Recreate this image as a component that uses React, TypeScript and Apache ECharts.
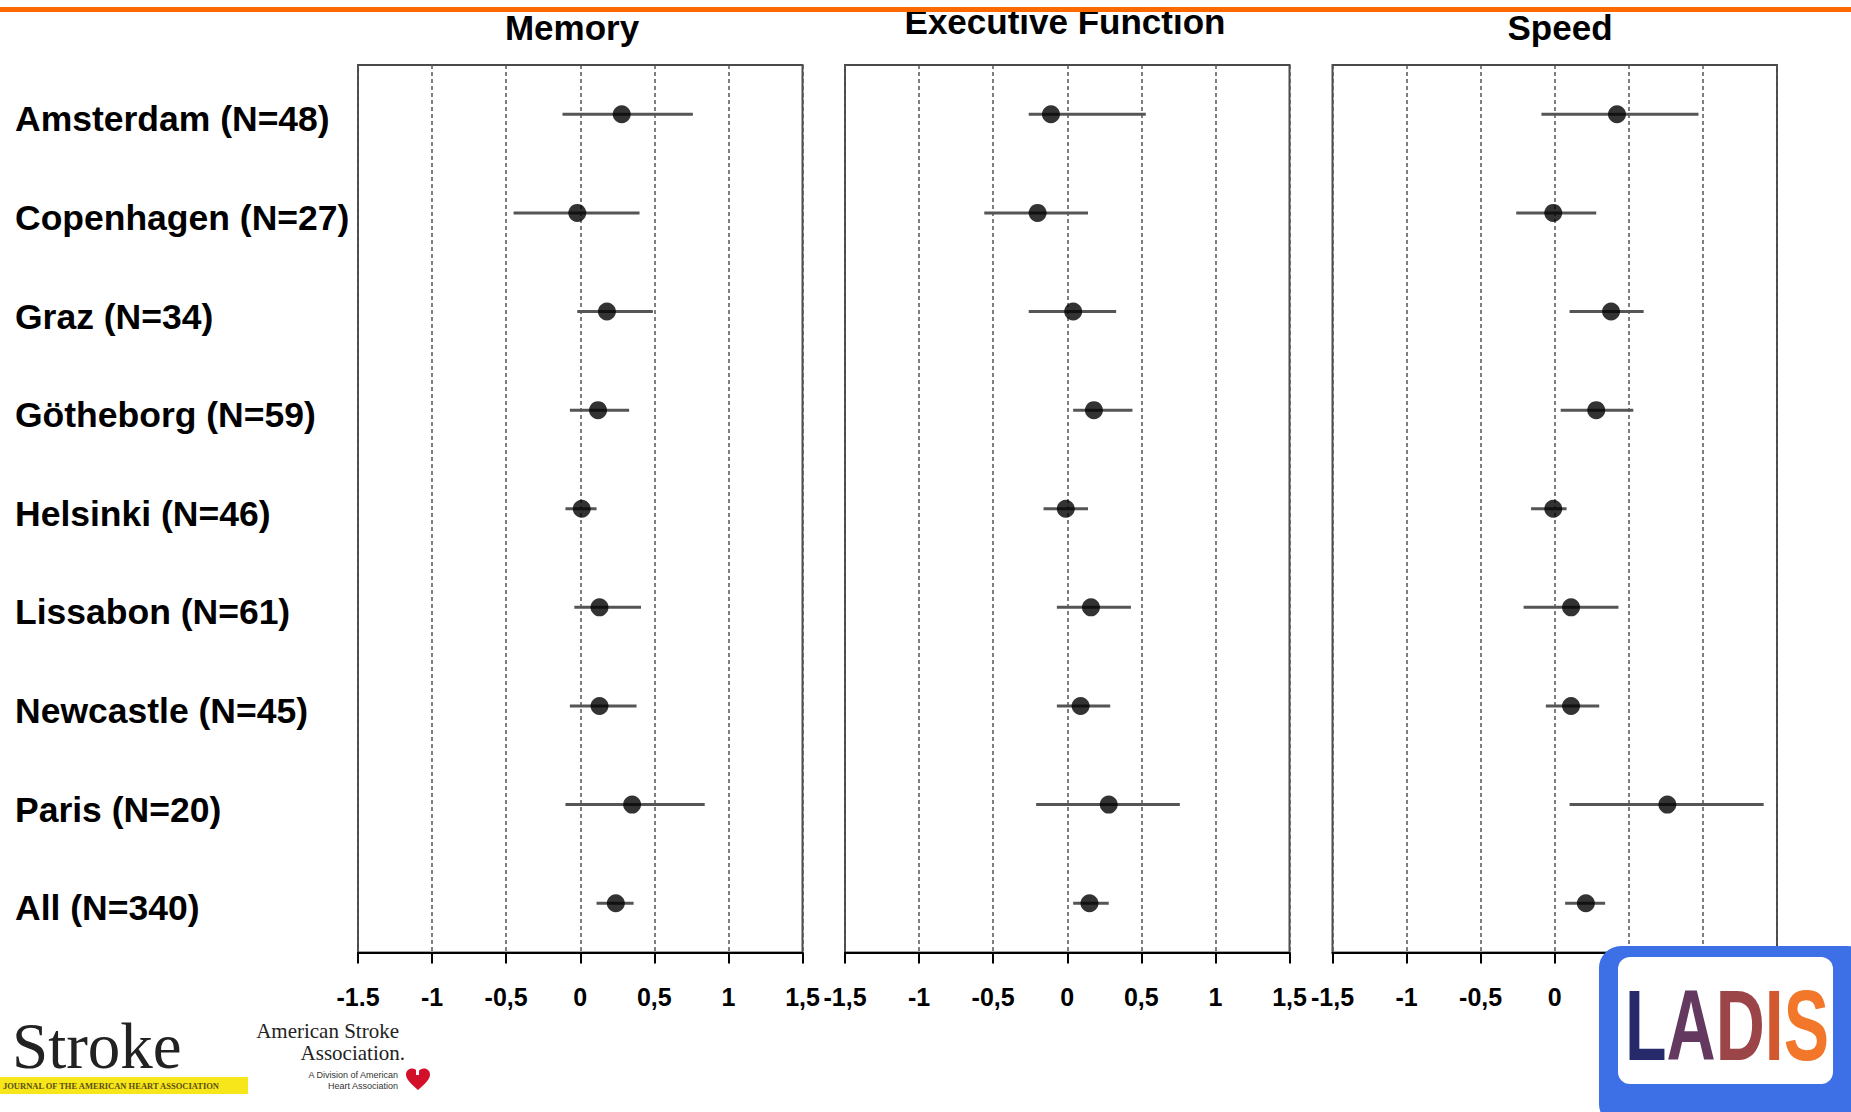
import React, { useEffect, useRef } from "react";
import * as echarts from "echarts";

// ---------- data ----------
const rowLabels = [
  "Amsterdam (N=48)",
  "Copenhagen (N=27)",
  "Graz (N=34)",
  "Götheborg (N=59)",
  "Helsinki (N=46)",
  "Lissabon (N=61)",
  "Newcastle (N=45)",
  "Paris (N=20)",
  "All (N=340)",
];

const panelTitles = ["Memory", "Executive Function", "Speed"];

const memoryMean = [0.28, -0.02, 0.18, 0.12, 0.01, 0.13, 0.13, 0.35, 0.24];
const memoryLow = [-0.12, -0.45, -0.02, -0.07, -0.1, -0.04, -0.07, -0.1, 0.11];
const memoryHigh = [0.76, 0.4, 0.49, 0.33, 0.11, 0.41, 0.38, 0.84, 0.36];

const execMean = [-0.11, -0.2, 0.04, 0.18, -0.01, 0.16, 0.09, 0.28, 0.15];
const execLow = [-0.26, -0.56, -0.26, 0.04, -0.16, -0.07, -0.07, -0.21, 0.04];
const execHigh = [0.53, 0.14, 0.33, 0.44, 0.14, 0.43, 0.29, 0.76, 0.28];

const speedMean = [0.42, -0.01, 0.38, 0.28, -0.01, 0.11, 0.11, 0.76, 0.21];
const speedLow = [-0.09, -0.26, 0.1, 0.04, -0.16, -0.21, -0.06, 0.1, 0.07];
const speedHigh = [0.97, 0.28, 0.6, 0.53, 0.08, 0.43, 0.3, 1.41, 0.34];

const memoryTickLabels = ["-1.5", "-1", "-0,5", "0", "0,5", "1", "1,5"];
const execTickLabels = ["-1,5", "-1", "-0,5", "0", "0,5", "1", "1,5"];
const speedTickLabels = ["-1,5", "-1", "-0,5", "0", "0,5", "1", "1,5"];

const AXIS_MIN = -1.5;
const AXIS_MAX = 1.5;
const AXIS_STEP = 0.5;

// ---------- layout / style ----------
const SANS = "'Liberation Sans', Arial, Helvetica, sans-serif";
const SERIF = "'Liberation Serif', 'Times New Roman', serif";
const gridLefts = [358, 845, 1332.5];
const gridTop = 65;
const gridWidth = 444.5;
const gridHeight = 887.5;
const titleCenters = [
  [572, 27],
  [1065, 21],
  [1560, 27],
];

const HEART_D =
  "M12 22 C4 15 0 11 0 6.5 C0 3 2.7 0.5 6 0.5 C8.5 0.5 10.7 2 12 4 C13.3 2 15.5 0.5 18 0.5 C21.3 0.5 24 3 24 6.5 C24 11 20 15 12 22 Z";
let heartRegistered = false;

export default function App() {
  const ref = useRef<HTMLDivElement | null>(null);

  useEffect(() => {
    if (!ref.current) return;
    if (!heartRegistered) {
      echarts.graphic.registerShape("ahaHeart", echarts.graphic.extendPath(HEART_D, {}));
      heartRegistered = true;
    }
    const chart = echarts.init(ref.current, null, { renderer: "svg" });

    const panels = [
      { mean: memoryMean, low: memoryLow, high: memoryHigh, ticks: memoryTickLabels },
      { mean: execMean, low: execLow, high: execHigh, ticks: execTickLabels },
      { mean: speedMean, low: speedLow, high: speedHigh, ticks: speedTickLabels },
    ];

    const grid = panels.map((_, i) => ({
      left: gridLefts[i],
      top: gridTop,
      width: gridWidth,
      height: gridHeight,
      show: true,
      borderColor: "#4a4a4a",
      borderWidth: 2,
      backgroundColor: "transparent",
    }));

    const xAxis = panels.map((p, i) => ({
      type: "value",
      gridIndex: i,
      min: AXIS_MIN,
      max: AXIS_MAX,
      interval: AXIS_STEP,
      axisLine: { show: true, onZero: false, lineStyle: { color: "#000", width: 2 } },
      axisTick: { show: true, length: 11, lineStyle: { color: "#000", width: 2 } },
      axisLabel: {
        show: true,
        margin: 32,
        fontSize: 25,
        fontWeight: "bold",
        fontFamily: SANS,
        color: "#000",
        showMinLabel: true,
        showMaxLabel: true,
        hideOverlap: false,
        formatter: (v: number) => p.ticks[Math.round((v - AXIS_MIN) / AXIS_STEP)] ?? "",
      },
      splitLine: { show: true, lineStyle: { color: "#555", width: 1.5, type: [4, 3] } },
    }));

    const rowLabelStyle = {
      fontSize: 35.5,
      fontWeight: "bold",
      fontFamily: SANS,
      color: "#000",
      padding: [10, 0, 0, 0],
    };

    const yAxis = panels.map((_, i) => ({
      type: "category",
      gridIndex: i,
      data: rowLabels,
      inverse: true,
      boundaryGap: true,
      axisLine: { show: false },
      axisTick: { show: false },
      splitLine: { show: false },
      axisLabel: {
        show: i === 0,
        align: "left",
        margin: 343,
        fontSize: 35.5,
        fontWeight: "bold",
        fontFamily: SANS,
        color: "#000",
        formatter: (v: string) => "{n|" + v + "}",
        rich: { n: rowLabelStyle },
      },
    }));

    const series: any[] = [];
    panels.forEach((p, i) => {
      series.push({
        type: "custom",
        xAxisIndex: i,
        yAxisIndex: i,
        encode: { x: [0, 1], y: 2 },
        data: rowLabels.map((_, k) => [p.low[k], p.high[k], k]),
        renderItem: (params: any, api: any) => {
          const a = api.coord([api.value(0), api.value(2)]);
          const b = api.coord([api.value(1), api.value(2)]);
          return {
            type: "line",
            shape: { x1: a[0], y1: a[1], x2: b[0], y2: b[1] },
            style: { stroke: "#555", lineWidth: 3 },
          };
        },
        z: 2,
      });
      series.push({
        type: "scatter",
        xAxisIndex: i,
        yAxisIndex: i,
        data: rowLabels.map((_, k) => [p.mean[k], k]),
        symbol: "circle",
        symbolSize: 18,
        itemStyle: { color: "#000" },
        z: 3,
      });
    });

    const titleGraphics = panelTitles.map((t, i) => ({
      type: "text",
      x: titleCenters[i][0],
      y: titleCenters[i][1],
      z: 10,
      style: {
        text: t,
        fontSize: 35,
        fontWeight: "bold",
        fontFamily: SANS,
        fill: "#000",
        align: "center",
        verticalAlign: "middle",
      },
    }));

    const ladisLetter = (color: string) => ({
      fill: color,
      fontSize: 100,
      fontWeight: "bold",
      fontFamily: SANS,
    });

    const graphic: any[] = [
      ...titleGraphics,
      // orange rule at top
      { type: "rect", z: 20, shape: { x: 0, y: 7, width: 1851, height: 5 }, style: { fill: "#ff6a00" } },
      // Stroke journal logo
      {
        type: "text",
        x: 12,
        y: 1046,
        z: 20,
        style: { text: "Stroke", fontSize: 65, fontFamily: SERIF, fill: "#222", align: "left", verticalAlign: "middle" },
      },
      { type: "rect", z: 20, shape: { x: 0, y: 1077, width: 248, height: 17 }, style: { fill: "#f6e61a" } },
      {
        type: "text",
        x: 3,
        y: 1086,
        z: 21,
        style: {
          text: "JOURNAL OF THE AMERICAN HEART ASSOCIATION",
          fontSize: 8.5,
          fontWeight: "bold",
          fontFamily: SERIF,
          fill: "#5b4f10",
          align: "left",
          verticalAlign: "middle",
        },
      },
      // American Stroke Association logo
      {
        type: "text",
        x: 399,
        y: 1031,
        z: 20,
        style: { text: "American Stroke", fontSize: 21, fontFamily: SERIF, fill: "#222", align: "right", verticalAlign: "middle" },
      },
      {
        type: "text",
        x: 405,
        y: 1053,
        z: 20,
        style: { text: "Association.", fontSize: 21, fontFamily: SERIF, fill: "#222", align: "right", verticalAlign: "middle" },
      },
      {
        type: "text",
        x: 398,
        y: 1075,
        z: 20,
        style: { text: "A Division of American", fontSize: 9, fontFamily: SANS, fill: "#333", align: "right", verticalAlign: "middle" },
      },
      {
        type: "text",
        x: 398,
        y: 1086,
        z: 20,
        style: { text: "Heart Association", fontSize: 9, fontFamily: SANS, fill: "#333", align: "right", verticalAlign: "middle" },
      },
      { type: "ahaHeart", x: 406, y: 1068, scaleX: 1.0, scaleY: 1.0, z: 20, style: { fill: "#d3102a" } },
      { type: "rect", z: 21, shape: { x: 416, y: 1063, width: 3, height: 12 }, style: { fill: "#fff" } },
      // LADIS logo
      { type: "rect", z: 30, shape: { x: 1599, y: 946, width: 270, height: 180, r: 22 }, style: { fill: "#3d6fe6" } },
      { type: "rect", z: 31, shape: { x: 1618, y: 957, width: 215, height: 127, r: 12 }, style: { fill: "#fff" } },
      {
        type: "text",
        x: 1625,
        y: 1026,
        scaleX: 0.68,
        z: 32,
        style: {
          text: "{l|L}{a|A}{d|D}{i|I}{s|S}",
          fontSize: 100,
          fontWeight: "bold",
          fontFamily: SANS,
          align: "left",
          verticalAlign: "middle",
          rich: {
            l: ladisLetter("#26296a"),
            a: ladisLetter("#64395f"),
            d: ladisLetter("#9c4549"),
            i: ladisLetter("#d2592f"),
            s: ladisLetter("#f2772a"),
          },
        },
      },
    ];

    chart.setOption({
      animation: false,
      backgroundColor: "#fff",
      grid,
      xAxis,
      yAxis,
      series,
      graphic,
    });

    return () => {
      chart.dispose();
    };
  }, []);

  return (
    <div
      ref={ref}
      style={{ position: "fixed", left: 0, top: 0, width: 1851, height: 1112, background: "#fff" }}
    />
  );
}
